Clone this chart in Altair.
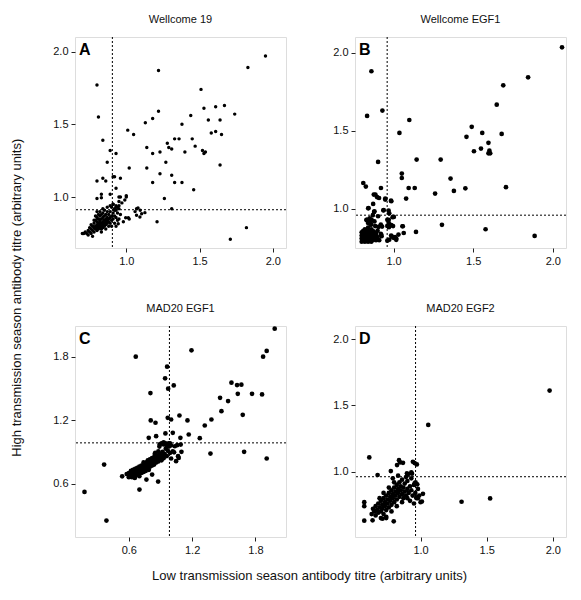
import altair as alt
import pandas as pd

# ---------------- Panel A: Wellcome 19 ----------------
a_x = [0.80, 0.81, 0.84, 0.89, 0.87, 0.93, 0.80, 0.86, 0.84, 0.92, 0.91, 0.96, 0.93, 0.95, 1.00, 0.80, 0.83,
       1.02, 1.01, 1.05, 1.22, 1.22, 1.13, 1.18, 1.14, 1.18, 1.14, 1.18, 1.23, 1.23, 1.26, 1.28, 1.29, 1.31,
       1.33, 1.36, 1.27, 1.31, 1.33, 1.38, 1.40, 1.38, 1.31, 1.21, 1.44, 1.45, 1.47, 1.46, 1.51, 1.53, 1.56,
       1.61, 1.67, 1.74, 1.64, 1.58, 1.61, 1.65, 1.52, 1.53, 1.54, 1.64, 1.71, 1.82, 1.83, 1.95,
       0.83, 0.89, 0.96, 1.00, 0.95, 0.97, 0.99, 0.91, 0.93, 0.92, 0.94, 0.93, 0.95, 1.07, 1.08, 1.095, 1.06,
       1.07, 1.105, 1.127, 1.093, 1.014, 1.02, 0.98, 0.945, 0.996,
       0.70, 0.71, 0.72, 0.74, 0.74, 0.75, 0.76, 0.76, 0.77, 0.77, 0.78, 0.78, 0.78, 0.79, 0.79, 0.79, 0.80,
       0.80, 0.80, 0.80, 0.80, 0.81, 0.81, 0.81, 0.81, 0.81, 0.82, 0.82, 0.82, 0.82, 0.82, 0.82, 0.83, 0.83,
       0.83, 0.83, 0.83, 0.84, 0.84, 0.84, 0.84, 0.84, 0.85, 0.85, 0.85, 0.85, 0.85, 0.86, 0.86, 0.86, 0.86,
       0.87, 0.87, 0.87, 0.87, 0.88, 0.88, 0.88, 0.88, 0.89, 0.89, 0.89, 0.90, 0.90, 0.90, 0.91, 0.91, 0.92,
       0.92, 0.92, 0.93, 0.93, 0.94, 0.94, 0.95, 0.96, 0.80, 0.79, 0.84, 0.87, 0.89, 0.91, 0.93, 0.95, 0.78,
       0.76, 0.75, 0.73, 0.77, 0.83, 0.86, 0.90]
a_y = [1.77, 1.55, 1.39, 1.32, 1.24, 1.30, 1.11, 1.11, 1.13, 1.14, 1.14, 1.13, 1.06, 1.00, 1.00, 0.99, 1.02,
       1.20, 1.46, 1.43, 1.87, 1.59, 1.51, 1.54, 1.34, 1.30, 1.20, 1.10, 1.31, 1.16, 0.99, 1.37, 1.34, 1.33,
       1.40, 1.40, 1.24, 1.15, 1.10, 1.50, 1.31, 1.10, 0.92, 0.83, 1.56, 1.40, 1.35, 1.05, 1.74, 1.61, 1.53,
       1.62, 1.63, 1.57, 1.53, 1.44, 1.45, 1.43, 1.32, 1.30, 1.31, 1.22, 0.71, 0.79, 1.89, 1.97,
       0.995, 1.02, 1.00, 1.01, 0.97, 0.96, 0.98, 0.95, 0.94, 0.92, 0.93, 0.91, 0.92, 0.92, 0.925, 0.91, 0.90,
       0.875, 0.886, 0.893, 0.863, 0.858, 0.85, 0.83, 0.817, 0.858,
       0.75, 0.75, 0.76, 0.74, 0.77, 0.79, 0.75, 0.78, 0.80, 0.77, 0.76, 0.79, 0.82, 0.78, 0.80, 0.84, 0.77,
       0.79, 0.81, 0.83, 0.86, 0.78, 0.80, 0.82, 0.85, 0.88, 0.79, 0.81, 0.83, 0.84, 0.87, 0.90, 0.78, 0.80,
       0.82, 0.85, 0.88, 0.79, 0.81, 0.83, 0.86, 0.89, 0.80, 0.82, 0.84, 0.87, 0.91, 0.81, 0.83, 0.85, 0.88,
       0.82, 0.84, 0.86, 0.90, 0.80, 0.83, 0.85, 0.88, 0.82, 0.86, 0.90, 0.84, 0.87, 0.93, 0.85, 0.89, 0.82,
       0.87, 0.91, 0.80, 0.86, 0.84, 0.89, 0.85, 0.88, 0.90, 0.87, 0.92, 0.93, 0.94, 0.95, 0.93, 0.94, 0.84,
       0.81, 0.76, 0.75, 0.73, 0.76, 0.78, 0.80]

# ---------------- Panel B: Wellcome EGF1 ----------------
b_x = [0.861, 0.834, 0.930, 0.903, 0.810, 0.826, 0.921, 0.841, 0.872, 0.886, 0.909, 0.948, 0.986, 0.936,
       0.969, 0.973, 0.878, 0.903, 0.961, 1.002, 0.975, 0.986, 0.961, 0.928, 0.861, 0.832, 0.855, 0.923,
       0.990, 1.010, 0.961, 1.017, 1.031, 1.058, 1.064, 1.141, 1.037, 1.099, 1.052, 1.052, 1.079, 1.095,
       1.133, 1.145, 1.261, 1.296, 1.304, 1.358, 1.379, 1.451, 1.458, 1.491, 1.505, 1.557, 1.549, 1.578,
       1.596, 1.602, 1.607, 1.596, 1.648, 1.679, 1.689, 1.706, 1.845, 1.886, 2.058,
       0.876, 0.897, 0.948, 0.984, 0.938, 0.843, 0.880, 0.835, 0.850, 0.863, 0.885, 0.905, 0.920, 0.970,
       0.970, 0.994, 0.971, 0.997, 1.056, 0.985, 1.000, 1.017, 0.973, 0.925,
       0.80, 0.80, 0.80, 0.80, 0.81, 0.81, 0.81, 0.81, 0.82, 0.82, 0.82, 0.82, 0.82, 0.83, 0.83, 0.83, 0.83,
       0.84, 0.84, 0.84, 0.84, 0.84, 0.85, 0.85, 0.85, 0.85, 0.86, 0.86, 0.86, 0.86, 0.86, 0.87, 0.87, 0.87,
       0.87, 0.88, 0.88, 0.88, 0.89, 0.89, 0.90, 0.90, 0.91, 0.92, 0.84, 0.86, 0.83, 0.88, 0.85, 0.87]
b_y = [1.881, 1.595, 1.629, 1.301, 1.166, 1.143, 1.134, 1.004, 1.032, 1.092, 1.070, 1.060, 1.049, 0.991,
       0.989, 0.972, 0.981, 0.953, 0.930, 0.949, 0.900, 0.896, 0.891, 0.887, 0.932, 0.928, 0.900, 0.834,
       0.823, 0.819, 0.797, 0.802, 0.836, 0.889, 0.846, 0.853, 1.486, 1.569, 1.226, 1.198, 1.066, 1.134,
       1.134, 1.316, 1.098, 1.316, 0.898, 1.194, 1.115, 1.132, 1.461, 1.525, 1.369, 1.486, 1.386, 0.870,
       1.423, 1.373, 1.356, 1.356, 1.667, 1.480, 1.791, 1.139, 1.842, 0.827, 2.034,
       1.092, 1.075, 1.066, 1.053, 0.992, 1.006, 0.985, 0.930, 0.920, 0.925, 0.890, 0.885, 0.900, 0.930,
       0.910, 0.947, 0.883, 0.890, 0.889, 0.830, 0.815, 0.810, 0.803, 0.825,
       0.79, 0.81, 0.83, 0.85, 0.80, 0.82, 0.84, 0.86, 0.79, 0.81, 0.83, 0.85, 0.87, 0.80, 0.82, 0.84, 0.86,
       0.79, 0.81, 0.83, 0.85, 0.88, 0.80, 0.82, 0.84, 0.86, 0.79, 0.81, 0.83, 0.85, 0.87, 0.80, 0.82, 0.84,
       0.86, 0.81, 0.83, 0.85, 0.80, 0.84, 0.82, 0.86, 0.80, 0.84, 0.91, 0.90, 0.93, 0.92, 0.94, 0.96]

# ---------------- Panel C: MAD20 EGF1 ----------------
c_x = [0.18, 0.388, 0.366, 0.537, 0.666, 0.701, 0.805, 0.808, 0.853, 0.789, 0.859, 0.963, 0.944, 0.973,
       1.026, 0.969, 1.001, 0.947, 1.017, 1.080, 1.089, 1.156, 1.168, 1.194, 1.273, 1.320, 1.383, 1.374,
       1.465, 1.478, 1.541, 1.573, 1.626, 1.667, 1.633, 1.680, 1.693, 1.768, 1.863, 1.873, 1.907, 1.907,
       1.983, 0.862, 0.878, 0.767, 0.821, 0.673, 1.017, 1.058, 1.099, 1.067, 1.001, 1.048,
       0.893, 0.93, 0.96, 0.98, 1.036, 1.092, 1.029, 1.073, 0.846, 0.88, 0.912, 0.657,
       0.58, 0.60, 0.60, 0.61, 0.62, 0.63, 0.63, 0.64, 0.64, 0.65, 0.66, 0.66, 0.67, 0.67, 0.68, 0.69, 0.69,
       0.70, 0.70, 0.71, 0.72, 0.72, 0.73, 0.73, 0.74, 0.74, 0.75, 0.75, 0.76, 0.76, 0.77, 0.77, 0.78, 0.78,
       0.79, 0.79, 0.80, 0.80, 0.81, 0.81, 0.82, 0.82, 0.83, 0.83, 0.84, 0.84, 0.85, 0.85, 0.86, 0.86, 0.87,
       0.87, 0.88, 0.88, 0.89, 0.90, 0.90, 0.91, 0.92, 0.92, 0.93, 0.94, 0.95, 0.96, 0.97, 0.98, 0.99, 0.93,
       0.95, 0.97, 0.99, 1.00, 0.89, 0.91, 0.70, 0.74, 0.79, 0.85]
c_y = [0.521, 0.250, 0.780, 0.669, 1.800, 0.543, 1.456, 1.197, 1.175, 1.033, 1.048, 1.705, 1.595, 1.497,
       1.528, 1.222, 1.206, 1.074, 1.080, 1.244, 1.033, 1.197, 1.064, 1.860, 1.029, 1.149, 1.206, 0.884,
       1.411, 1.285, 1.380, 1.554, 1.531, 1.535, 1.449, 1.250, 0.900, 1.449, 1.443, 1.800, 1.854, 0.837,
       2.065, 0.827, 0.619, 0.638, 0.685, 0.698, 0.906, 0.963, 0.900, 0.859, 0.837, 0.812,
       0.97, 0.99, 0.96, 0.98, 0.953, 0.969, 0.896, 0.843, 0.88, 0.906, 0.86, 0.654,
       0.69, 0.66, 0.70, 0.68, 0.72, 0.66, 0.70, 0.68, 0.73, 0.71, 0.67, 0.74, 0.70, 0.72, 0.75, 0.69, 0.73,
       0.71, 0.76, 0.74, 0.70, 0.77, 0.73, 0.75, 0.78, 0.71, 0.76, 0.74, 0.79, 0.72, 0.77, 0.80, 0.75, 0.82,
       0.78, 0.80, 0.76, 0.83, 0.79, 0.81, 0.84, 0.77, 0.80, 0.82, 0.85, 0.78, 0.81, 0.83, 0.86, 0.80, 0.82,
       0.84, 0.87, 0.81, 0.83, 0.85, 0.88, 0.82, 0.86, 0.90, 0.84, 0.88, 0.93, 0.86, 0.91, 0.95, 0.89, 0.97,
       0.98, 0.97, 0.98, 0.96, 0.95, 0.98, 0.67, 0.80, 0.73, 0.89]

# ---------------- Panel D: MAD20 EGF2 ----------------
d_x = [1.976, 1.058, 0.612, 0.675, 1.310, 1.526, 0.574, 0.574, 0.574, 0.637, 0.712, 0.797, 0.775, 0.837,
       0.822, 0.867, 0.942, 0.972, 0.897, 0.930, 0.955, 0.975, 1.018, 1.010, 0.980, 0.845, 0.955, 0.962,
       0.905, 0.935, 0.968, 0.74,
       0.63, 0.64, 0.65, 0.66, 0.66, 0.67, 0.68, 0.68, 0.69, 0.70, 0.70, 0.71, 0.71, 0.72, 0.72, 0.73, 0.73,
       0.74, 0.74, 0.75, 0.75, 0.76, 0.76, 0.77, 0.77, 0.78, 0.78, 0.79, 0.79, 0.80, 0.80, 0.81, 0.81, 0.82,
       0.82, 0.83, 0.83, 0.84, 0.84, 0.85, 0.85, 0.86, 0.86, 0.87, 0.87, 0.88, 0.88, 0.89, 0.89, 0.90, 0.90,
       0.91, 0.92, 0.92, 0.93, 0.93, 0.94, 0.95, 0.95, 0.96, 0.97, 0.98, 0.99, 1.00, 0.76, 0.72, 0.80, 0.70,
       0.74, 0.78, 0.82, 0.86, 0.90, 0.83, 0.79, 0.69]
d_y = [1.6125, 1.353, 1.108, 0.975, 0.773, 0.798, 0.770, 0.740, 0.630, 0.633, 0.645, 0.625, 1.005, 1.087,
       1.050, 1.067, 1.075, 1.055, 0.988, 0.995, 0.913, 0.905, 0.833, 0.775, 0.800, 1.070, 1.065, 0.920,
       0.980, 0.985, 0.806, 0.650,
       0.68, 0.72, 0.70, 0.74, 0.67, 0.71, 0.76, 0.69, 0.73, 0.78, 0.70, 0.75, 0.72, 0.80, 0.68, 0.74, 0.77,
       0.82, 0.71, 0.76, 0.79, 0.73, 0.84, 0.78, 0.81, 0.75, 0.86, 0.80, 0.83, 0.77, 0.88, 0.82, 0.85, 0.79,
       0.90, 0.84, 0.87, 0.81, 0.92, 0.86, 0.89, 0.83, 0.94, 0.88, 0.80, 0.85, 0.91, 0.82, 0.96, 0.87, 0.93,
       0.84, 0.89, 0.78, 0.86, 0.95, 0.82, 0.90, 0.76, 0.84, 0.80, 0.87, 0.82, 0.77, 0.88, 0.84, 0.92, 0.65,
       0.66, 0.70, 0.74, 0.77, 0.80, 0.97, 0.95, 0.80]

FONT = "Liberation Sans"


def panel(xs, ys, title, letter, xdom, ydom, ticks, vref, href, size):
    df = pd.DataFrame({"x": xs, "y": ys})
    xenc = alt.X("x:Q", scale=alt.Scale(domain=xdom, nice=False, zero=False),
                 axis=alt.Axis(values=ticks, format=".1f", title=None, grid=False, domain=False,
                               tickSize=4, tickColor="#222", labelColor="#111", labelFontSize=11,
                               labelFont=FONT, labelPadding=3))
    yenc = alt.Y("y:Q", scale=alt.Scale(domain=ydom, nice=False, zero=False),
                 axis=alt.Axis(values=ticks, format=".1f", title=None, grid=False, domain=False,
                               tickSize=4, tickColor="#222", labelColor="#111", labelFontSize=11,
                               labelFont=FONT, labelPadding=3))
    pts = alt.Chart(df).mark_circle(size=size, color="black", opacity=1).encode(x=xenc, y=yenc)
    vr = alt.Chart(pd.DataFrame({"x": [vref]})).mark_rule(
        color="black", strokeDash=[2, 2], strokeWidth=1).encode(x=xenc)
    hr = alt.Chart(pd.DataFrame({"y": [href]})).mark_rule(
        color="black", strokeDash=[2, 2], strokeWidth=1).encode(y=yenc)
    lab = alt.Chart(pd.DataFrame({"t": [letter]})).mark_text(
        font=FONT, fontSize=16, fontWeight="bold", align="left", baseline="top", color="black"
    ).encode(x=alt.value(4), y=alt.value(5), text="t:N")
    return alt.layer(vr, hr, pts, lab).properties(
        width=211, height=211,
        title=alt.TitleParams(title, font=FONT, fontSize=11, fontWeight="normal", color="#111",
                              anchor="middle", offset=12))


pA = panel(a_x, a_y, "Wellcome 19", "A", [0.65, 2.09], [0.65, 2.10], [1.0, 1.5, 2.0], 0.905, 0.913, 12)
pB = panel(b_x, b_y, "Wellcome EGF1", "B", [0.758, 2.083], [0.75, 2.10], [1.0, 1.5, 2.0], 0.96, 0.96, 22)
pC = panel(c_x, c_y, "MAD20 EGF1", "C", [0.09, 2.09], [0.095, 2.09], [0.6, 1.2, 1.8], 0.985, 0.985, 22)
pD = panel(d_x, d_y, "MAD20 EGF2", "D", [0.504, 2.10], [0.507, 2.10], [1.0, 1.5, 2.0], 0.962, 0.962, 22)

grid = alt.concat(pA, pB, pC, pD, columns=2, spacing={"row": 35, "column": 45}).properties(
    title=alt.TitleParams("Low transmission season antibody titre (arbitrary units)", orient="bottom",
                          anchor="middle", font=FONT, fontSize=13, fontWeight="normal", color="#111",
                          offset=14))

chart = alt.hconcat(grid).properties(
    title=alt.TitleParams("High transmission season antibody titre (arbitrary units)", orient="left",
                          anchor="middle", font=FONT, fontSize=13, fontWeight="normal", color="#111",
                          offset=28),
    padding={"left": 3, "top": 5, "right": 5, "bottom": 5}
).configure_view(stroke="#222", strokeWidth=1.5).configure(background="white")

chart.save("out.html", embed_options={"renderer": "svg", "actions": False})
